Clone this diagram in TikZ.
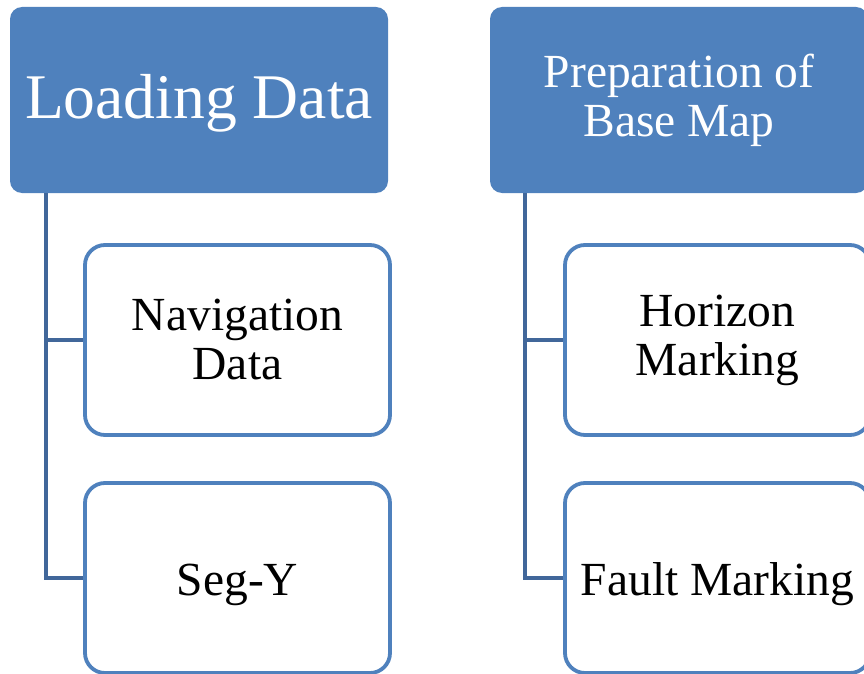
\documentclass[tikz,border=0pt]{standalone}
\usepackage{fontspec}
\setmainfont{Liberation Serif}
\usetikzlibrary{positioning}
\definecolor{headblue}{HTML}{4F81BD}
\definecolor{linkblue}{HTML}{41679A}

\begin{document}
\begin{tikzpicture}[x=1pt, y=-1pt,
    head/.style={fill=headblue, text=white, rounded corners=12pt, minimum width=378pt, minimum height=186pt, align=center, inner sep=0pt},
    item/.style={draw=headblue, line width=3.8pt, fill=white, text=black, rounded corners=20pt, minimum width=305pt, minimum height=190pt, align=center, inner sep=0pt, font=\fontsize{47.5}{49}\selectfont},
    link/.style={draw=linkblue, line width=4pt}]
    % Page frame
        \useasboundingbox (0,0) rectangle (864,674);
        \clip (0,0) rectangle (864,674);

        % Headings
        \node[head, text height=50pt, text depth=14pt, font=\fontsize{63.6}{70}\selectfont] (load) at (199,100) {Loading Data};
        \node[head, font=\fontsize{47.5}{49}\selectfont] (prep) at (679,100) {Preparation of\\Base Map};

        % Items under each heading
        \node[item] (nav) at (237.5,340) {Navigation\\Data};
        \node[item, text height=45pt, text depth=11pt] (segy) at (237.5,578) {Seg-Y};
        \node[item] (horizon) at (717.5,340) {Horizon\\Marking};
        \node[item, text height=45pt, text depth=11pt] (fault) at (717.5,578) {Fault Marking};

        % Connectors
        \draw[link] ([xshift=36pt]load.south west) |- (nav.west);
        \draw[link] ([xshift=36pt]load.south west) |- (segy.west);
        \draw[link] ([xshift=35pt]prep.south west) |- (horizon.west);
        \draw[link] ([xshift=35pt]prep.south west) |- (fault.west);

    \end{tikzpicture}
\end{document}
